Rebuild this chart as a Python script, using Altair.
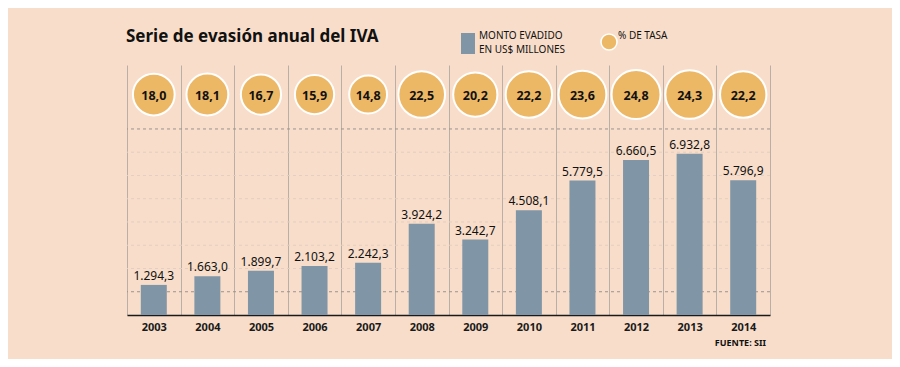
import altair as alt
import pandas as pd

years = ["2003", "2004", "2005", "2006", "2007", "2008", "2009", "2010", "2011", "2012", "2013", "2014"]
monto = [1294.3, 1663.0, 1899.7, 2103.2, 2242.3, 3924.2, 3242.7, 4508.1, 5779.5, 6660.5, 6932.8, 5796.9]
tasa = [18.0, 18.1, 16.7, 15.9, 14.8, 22.5, 20.2, 22.2, 23.6, 24.8, 24.3, 22.2]
grid_dark = [1000, 8000]
grid_light = [2000, 3000, 4000, 5000, 6000, 7000]


def es(v):
    s = f"{v:,.1f}"
    return s.replace(",", "X").replace(".", ",").replace("X", ".")


df = pd.DataFrame({
    "year": years,
    "monto": monto,
    "tasa": tasa,
    "monto_lbl": [es(v) for v in monto],
    "tasa_lbl": [es(v) for v in tasa],
})

FONT = "Noto Sans"
BG = "#F8DECA"
BAR = "#8095A6"
CIRC = "#EDB866"
CIRCLE_Y = 9480

yscale = alt.Scale(domain=[0, 10750], nice=False, zero=True)
xscale = alt.Scale(domain=years, paddingInner=0, paddingOuter=0)

xenc = alt.X(
    "year:N",
    scale=xscale,
    axis=alt.Axis(
        title=None, labelAngle=0, ticks=False, grid=True, tickBand="extent",
        gridColor="#B9AFA7", gridWidth=1, domainColor="#1a1a1a", domainWidth=1.6,
        labelFont=FONT, labelFontSize=11, labelFontWeight="bold", labelColor="#1a1a1a",
        labelPadding=6,
    ),
)

base = alt.Chart(df)

gd = alt.Chart(pd.DataFrame({"v": grid_dark})).mark_rule(
    color="#9A948E", strokeWidth=1, strokeDash=[3, 3]
).encode(y=alt.Y("v:Q", scale=yscale, axis=None))

gl = alt.Chart(pd.DataFrame({"v": grid_light})).mark_rule(
    color="#E2CFC1", strokeWidth=1, strokeDash=[3, 3]
).encode(y=alt.Y("v:Q", scale=yscale, axis=None))

bars = base.mark_bar(size=26, color=BAR).encode(
    x=xenc, y=alt.Y("monto:Q", scale=yscale, axis=None)
)

bar_lbl = base.mark_text(
    font=FONT, fontSize=12, color="#111", baseline="middle", dy=-9
).encode(x=alt.X("year:N", scale=xscale), y=alt.Y("monto:Q", scale=yscale), text="monto_lbl:N")

circles = base.mark_circle(color=CIRC, opacity=1, stroke="white", strokeWidth=2).encode(
    x=alt.X("year:N", scale=xscale),
    y=alt.datum(CIRCLE_Y, scale=yscale),
    size=alt.Size("tasa:Q", scale=alt.Scale(domain=[0, 24.8], range=[0, 2400]), legend=None),
)

circ_lbl = base.mark_text(
    font=FONT, fontSize=12.5, fontWeight="bold", color="#111", baseline="middle", dy=1
).encode(x=alt.X("year:N", scale=xscale), y=alt.datum(CIRCLE_Y, scale=yscale), text="tasa_lbl:N")

one = pd.DataFrame({"a": [0]})

title = alt.Chart(one).mark_text(
    text="Serie de evasión anual del IVA", font=FONT, fontSize=17, fontWeight="bold",
    color="#111", align="left", baseline="middle"
).encode(x=alt.value(-1), y=alt.value(-28))

leg_sq = alt.Chart(one).mark_rect(color=BAR).encode(
    x=alt.value(334), x2=alt.value(348), y=alt.value(-32), y2=alt.value(-11)
)
leg_t1 = alt.Chart(one).mark_text(
    text="MONTO EVADIDO", font=FONT, fontSize=10, color="#111", align="left", baseline="middle"
).encode(x=alt.value(352), y=alt.value(-29))
leg_t2 = alt.Chart(one).mark_text(
    text="EN US$ MILLONES", font=FONT, fontSize=10, color="#111", align="left", baseline="middle"
).encode(x=alt.value(352), y=alt.value(-15.5))
leg_c = alt.Chart(one).mark_point(
    shape="circle", filled=True, fill=CIRC, opacity=1, stroke="white", strokeWidth=1.5, size=256
).encode(x=alt.value(482), y=alt.value(-23))
leg_t3 = alt.Chart(one).mark_text(
    text="% DE TASA", font=FONT, fontSize=10, color="#111", align="left", baseline="middle"
).encode(x=alt.value(491), y=alt.value(-29))
src = alt.Chart(one).mark_text(
    text="FUENTE: SII", font=FONT, fontSize=9, fontWeight="bold", color="#111", align="right",
    baseline="middle"
).encode(x=alt.value(639), y=alt.value(278))

chart = alt.layer(
    gl, gd, bars, bar_lbl, circles, circ_lbl, title, leg_sq, leg_t1, leg_t2, leg_c, leg_t3, src
).properties(
    width=643, height=250, autosize="none",
    padding={"left": 119, "top": 57, "right": 122, "bottom": 44},
    background=BG,
).configure_view(stroke=None)

chart.save("out.html", embed_options={"renderer": "svg", "actions": False})
